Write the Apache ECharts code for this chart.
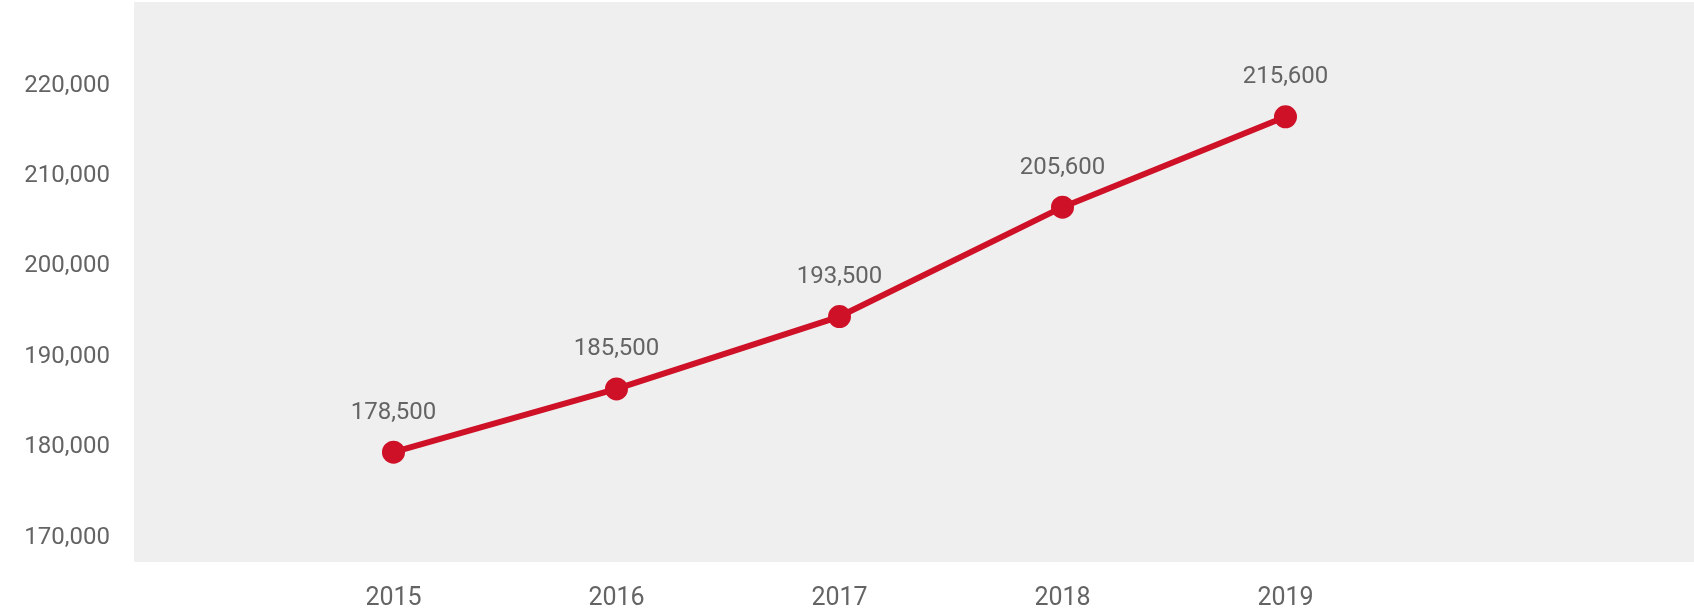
<!DOCTYPE html>
<html>
<head>
<meta charset="utf-8">
<script src="https://cdn.jsdelivr.net/npm/echarts@6/dist/echarts.min.js"></script>
<style>
  html, body { margin: 0; padding: 0; background: #fff; }
  #chart { width: 1694px; height: 612px; }
</style>
</head>
<body>
<div id="chart"></div>
<script>
const years = ['2015', '2016', '2017', '2018', '2019'];
const values = [178500, 185500, 193500, 205600, 215600];
const yTicks = { min: 170000, max: 220000, interval: 10000 };

const textColor = '#646464';
const red = '#cf1128';
const font = 'Roboto';

const myChart = echarts.init(document.getElementById('chart'));

const fmt = (v) => Number(v).toLocaleString('en-US');

const option = {
    backgroundColor: '#fff',
    animation: false,
    grid: [
        // grey panel behind everything
        { left: 134, right: 0, top: 2, bottom: 50, show: true, backgroundColor: '#efefef', borderWidth: 0 },
        // actual plot
        { left: 282, right: 297, top: 77, bottom: 83 }
    ],
    xAxis: [
        { gridIndex: 0, type: 'value', show: false },
        {
            gridIndex: 1,
            type: 'category',
            data: years,
            boundaryGap: true,
            axisLine: { show: false },
            axisTick: { show: false },
            axisLabel: {
                margin: 57,
                color: textColor,
                fontFamily: font,
                fontSize: 25
            }
        }
    ],
    yAxis: [
        { gridIndex: 0, type: 'value', show: false },
        {
            gridIndex: 1,
            type: 'value',
            min: yTicks.min,
            max: yTicks.max,
            interval: yTicks.interval,
            axisLine: { show: false },
            axisTick: { show: false },
            splitLine: { show: false },
            axisLabel: {
                margin: 172,
                color: textColor,
                fontFamily: font,
                fontSize: 24,
                verticalAlign: 'top',
                lineHeight: 17,
                formatter: fmt
            }
        }
    ],
    series: [
        {
            type: 'line',
            xAxisIndex: 1,
            yAxisIndex: 1,
            data: values,
            symbol: 'circle',
            symbolSize: 23,
            lineStyle: { color: red, width: 6 },
            itemStyle: { color: red },
            label: {
                show: true,
                position: 'top',
                distance: 16,
                color: textColor,
                fontFamily: font,
                fontSize: 24,
                formatter: (p) => fmt(p.value)
            }
        }
    ]
};

option && myChart.setOption(option);
</script>
</body>
</html>
